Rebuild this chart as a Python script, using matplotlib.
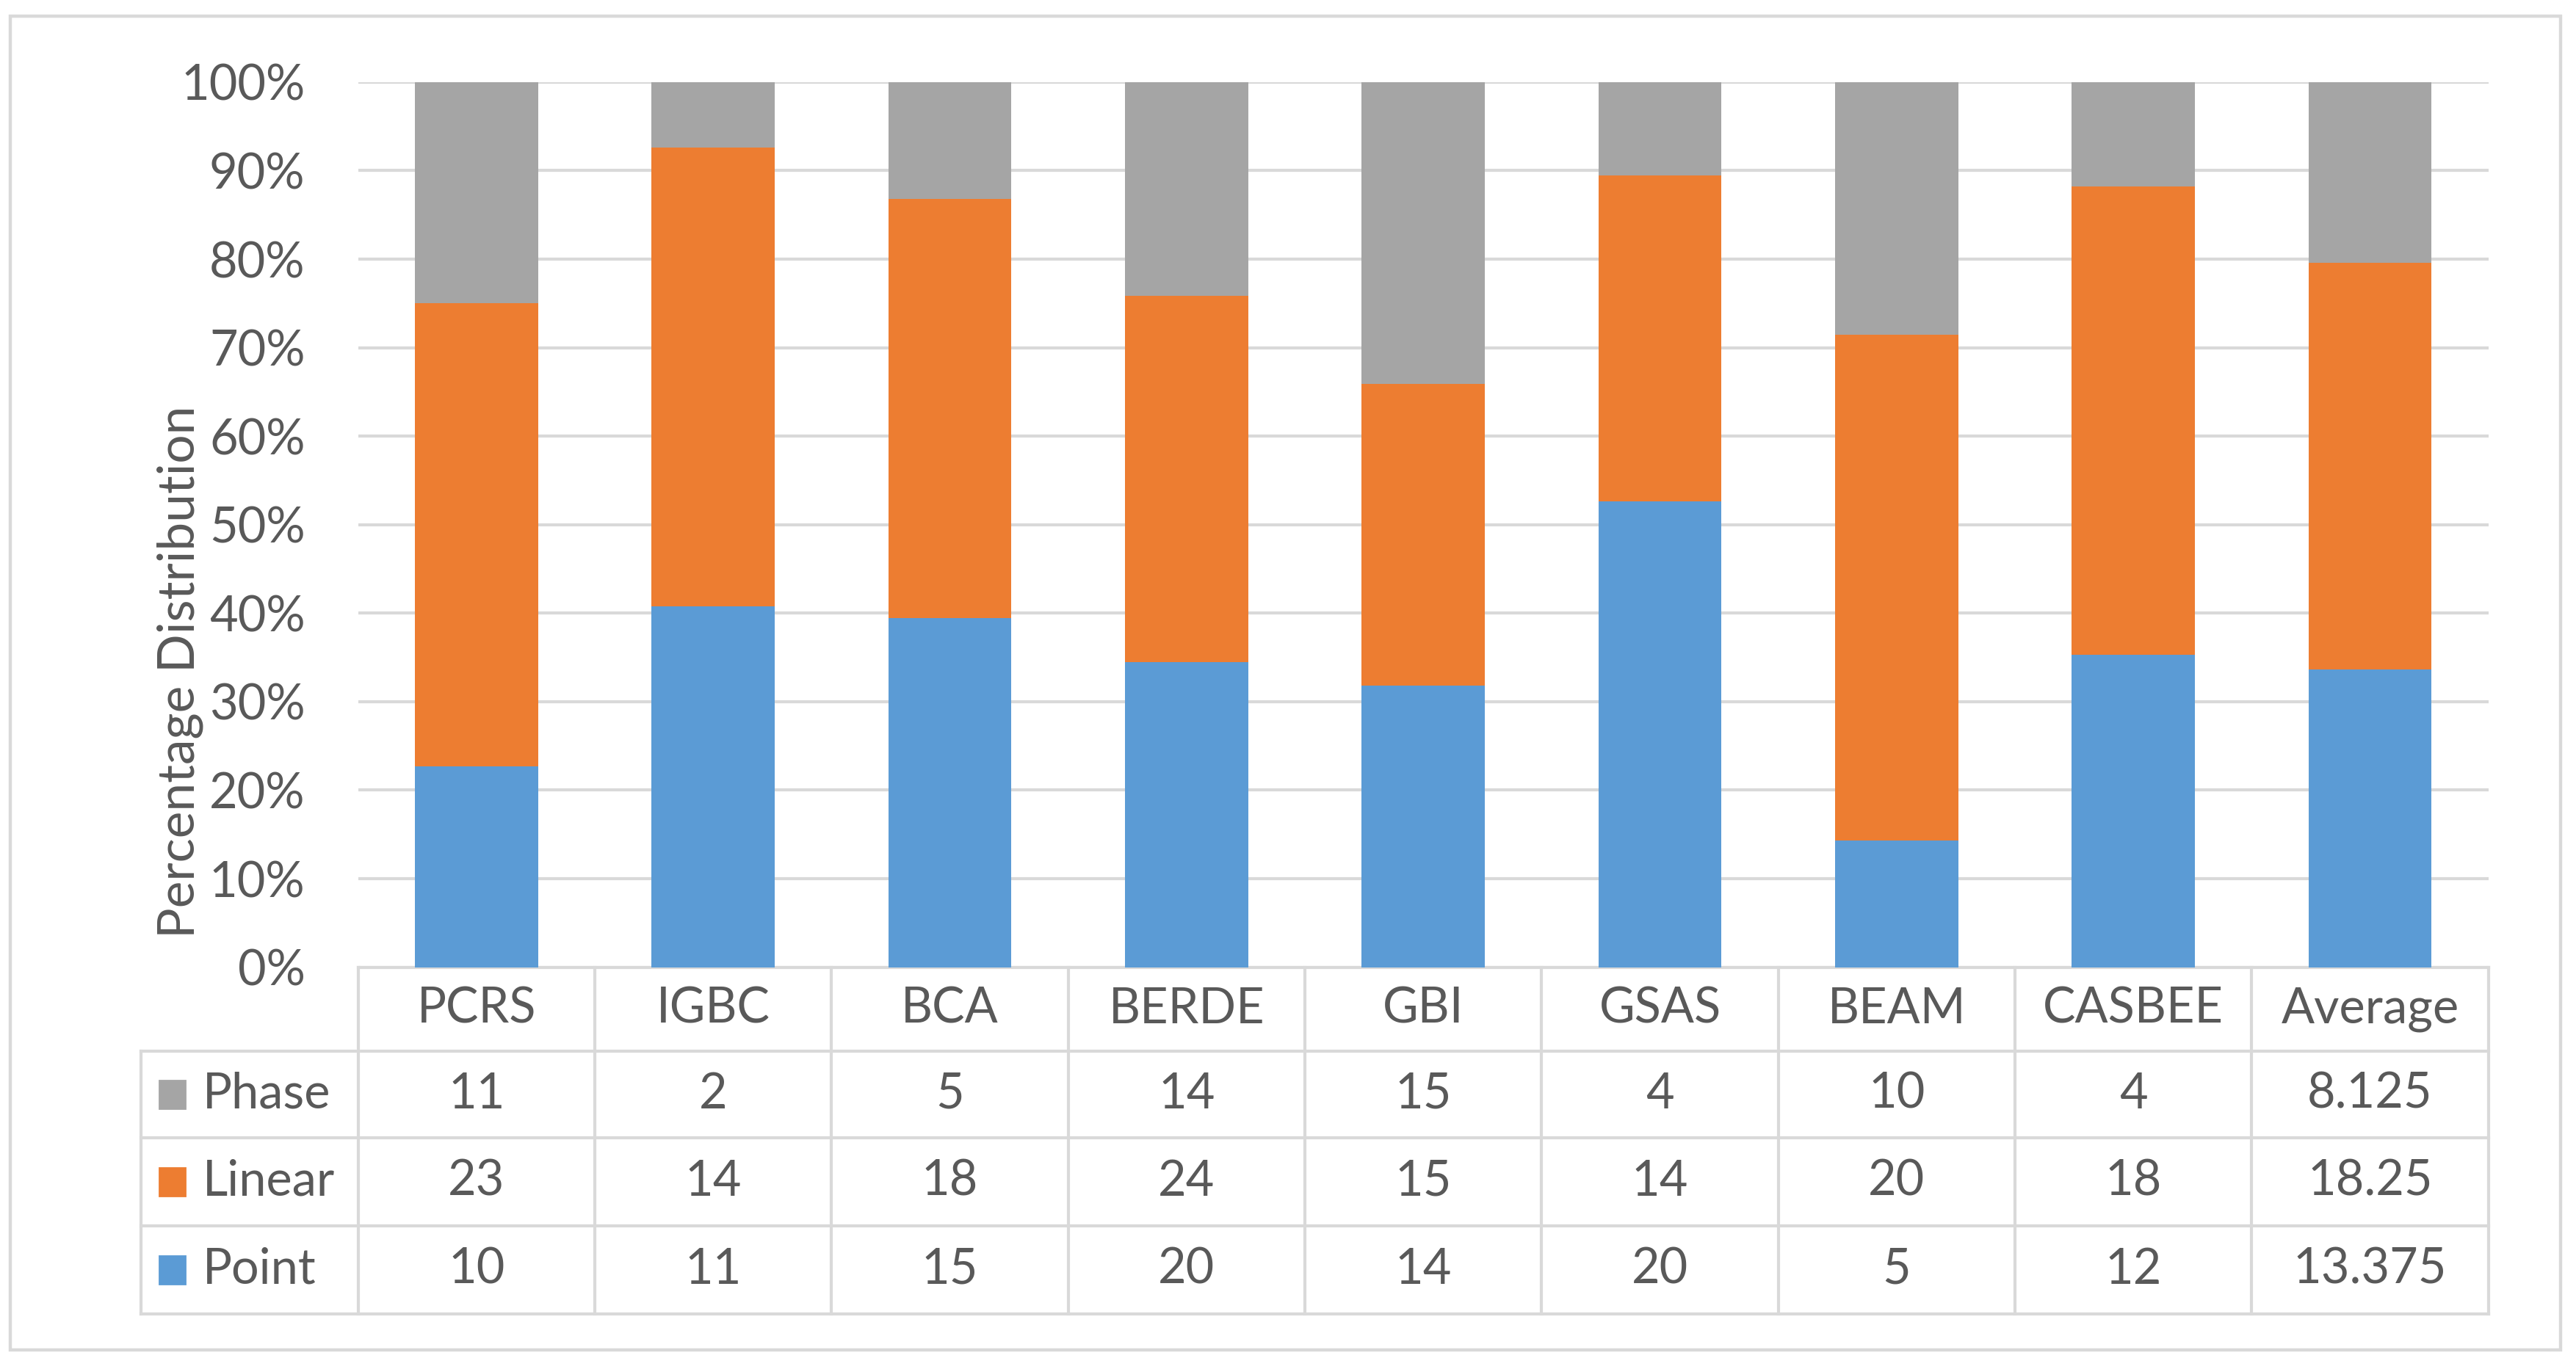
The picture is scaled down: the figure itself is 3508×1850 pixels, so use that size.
import matplotlib.pyplot as plt
import matplotlib.transforms as mtransforms
from matplotlib.patches import Rectangle
import numpy as np

categories = ["PCRS", "IGBC", "BCA", "BERDE", "GBI", "GSAS", "BEAM", "CASBEE", "Average"]
phase = [11, 2, 5, 14, 15, 4, 10, 4, 8.125]
linear = [23, 14, 18, 24, 15, 14, 20, 18, 18.25]
point = [10, 11, 15, 20, 14, 20, 5, 12, 13.375]
yticks = [0, 10, 20, 30, 40, 50, 60, 70, 80, 90, 100]

c_point = "#5B9BD5"
c_linear = "#ED7D31"
c_phase = "#A5A5A5"
c_text = "#595959"
c_line = "#D9D9D9"

plt.rcParams['font.family'] = ['Lato', 'DejaVu Sans']
fs = 24

phase_a = np.array(phase, dtype=float)
linear_a = np.array(linear, dtype=float)
point_a = np.array(point, dtype=float)
total = phase_a + linear_a + point_a
p_pt = point_a / total * 100
p_li = linear_a / total * 100
p_ph = phase_a / total * 100

fig = plt.figure(figsize=(17.54, 9.25), dpi=200)
# outer chart border
fig.patches.append(Rectangle((0.004, 0.006), 0.99, 0.982, transform=fig.transFigure,
                             fill=False, edgecolor=c_line, lw=1.6))

ax = fig.add_axes([0.139, 0.2878, 0.827, 0.6517])
x = np.arange(len(categories))
w = 0.52
ax.bar(x, p_pt, w, color=c_point, zorder=3)
ax.bar(x, p_li, w, bottom=p_pt, color=c_linear, zorder=3)
ax.bar(x, p_ph, w, bottom=p_pt + p_li, color=c_phase, zorder=3)

ax.set_xlim(-0.5, len(categories) - 0.5)
ax.set_ylim(0, 100)
ax.set_yticks(yticks)
ax.set_yticklabels([f"{t}%" for t in yticks], fontsize=fs, color=c_text)
ax.set_xticks([])
ax.tick_params(axis='y', length=0, pad=26)
ax.yaxis.grid(True, color=c_line, lw=1.5, zorder=0)
for s in ax.spines.values():
    s.set_visible(False)

fig.text(0.070, 0.505, "Percentage Distribution", rotation=90, ha='center', va='center',
         fontsize=fs + 1, color=c_text)

# data table under the axis
trans = mtransforms.blended_transform_factory(ax.transData, ax.transAxes)
rows_y = [0, -0.0946, -0.193, -0.292, -0.392]
x_left = -1.416
x_right = len(categories) - 0.5
lw = 1.5
# horizontal lines
ax.plot([-0.5, x_right], [0, 0], color=c_line, lw=lw, transform=trans, clip_on=False)
for yy in rows_y[1:]:
    ax.plot([x_left, x_right], [yy, yy], color=c_line, lw=lw, transform=trans, clip_on=False)
# vertical lines
for i in range(len(categories) + 1):
    ax.plot([i - 0.5, i - 0.5], [0, rows_y[-1]], color=c_line, lw=lw, transform=trans, clip_on=False)
ax.plot([x_left, x_left], [rows_y[1], rows_y[-1]], color=c_line, lw=lw, transform=trans, clip_on=False)

# header
for i, c in enumerate(categories):
    ax.text(i, (rows_y[0] + rows_y[1]) / 2, c, ha='center', va='center', fontsize=fs,
            color=c_text, transform=trans)

series = [("Phase", phase, c_phase), ("Linear", linear, c_linear), ("Point", point, c_point)]
for r, (name, vals, col) in enumerate(series):
    yc = (rows_y[r + 1] + rows_y[r + 2]) / 2
    ax.add_patch(Rectangle((x_left + 0.075, yc - 0.016), 0.11, 0.032, color=col,
                           transform=trans, clip_on=False))
    ax.text(x_left + 0.26, yc, name, ha='left', va='center', fontsize=fs, color=c_text,
            transform=trans)
    for i, v in enumerate(vals):
        ax.text(i, yc, f"{v:g}", ha='center', va='center', fontsize=fs, color=c_text,
                transform=trans)

fig.savefig("out.png", dpi=200)
